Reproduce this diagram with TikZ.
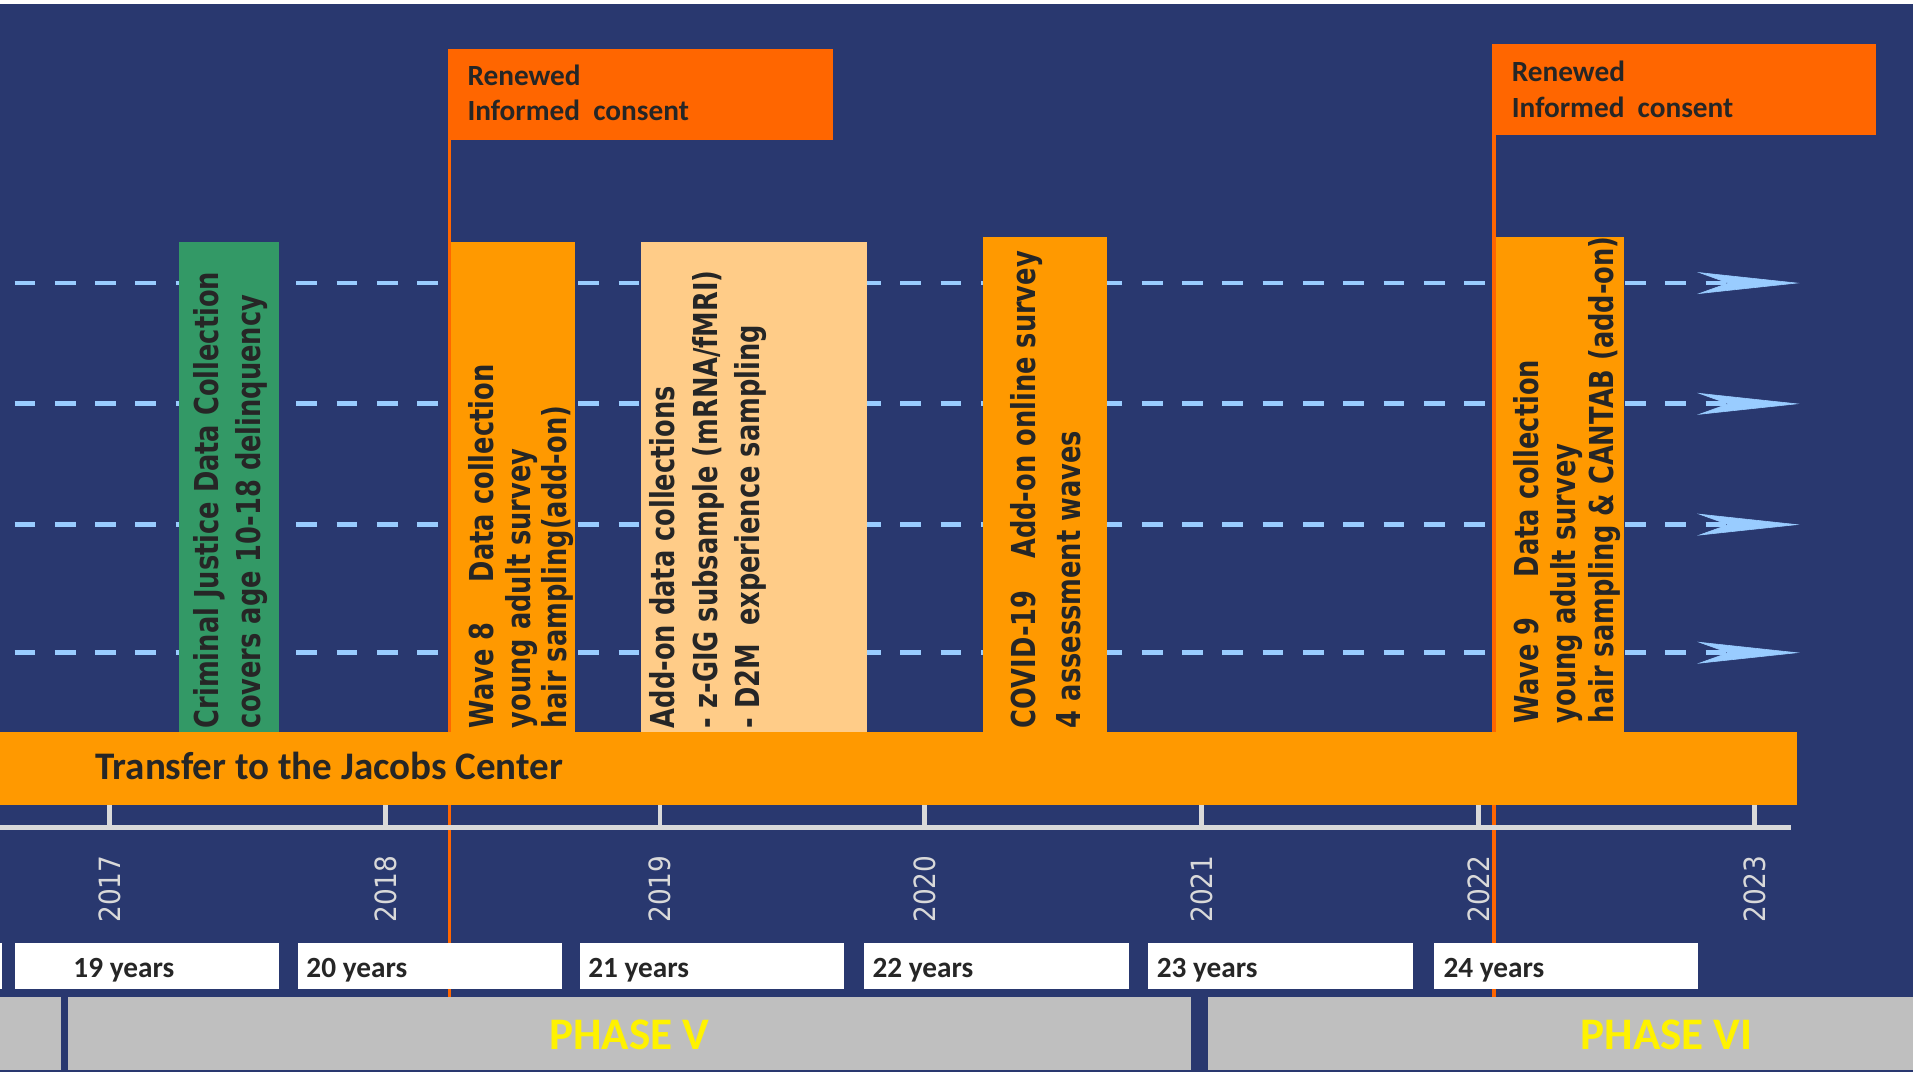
\documentclass[tikz,border=0pt]{standalone}
\usepackage{fontspec}
\setmainfont{Carlito}
\newfontfamily\boxfont[FakeStretch=0.78]{DejaVu Sans}
\newfontfamily\yearfont[FakeStretch=0.9]{DejaVu Sans}
\usetikzlibrary{arrows.meta,positioning}
\definecolor{navy}{HTML}{29386F}
\definecolor{barorange}{HTML}{FF9900}
\definecolor{redorange}{HTML}{FF6600}
\definecolor{lightorange}{HTML}{FFCC88}
\definecolor{crimgreen}{HTML}{339966}
\definecolor{dashblue}{HTML}{99CCFF}
\definecolor{phasegray}{HTML}{BFBFBF}
\definecolor{axisgray}{HTML}{D9D9D9}
\definecolor{darktext}{HTML}{262626}

\begin{document}
\begin{tikzpicture}[x=1pt,y=-1pt,
  box/.style={anchor=north west,inner sep=0pt,outer sep=0pt},
  vlabel/.style={rotate=90,anchor=north west,inner sep=0pt,align=left,text=darktext,
    font=\boxfont\bfseries\fontsize{27}{#1}\selectfont},
  track/.style={dashblue,line width=4pt,dash pattern=on 17pt off 16pt,
    -{Stealth[length=84pt,width=18pt,inset=25pt,line width=0.5pt]}},
  consentline/.style={redorange,line width=3pt},
  consenttext/.style={anchor=north west,inner sep=0pt,align=left,text=darktext,
    font=\bfseries\fontsize{24}{29}\selectfont},
  axis/.style={axisgray,line width=4pt},
  yearlabel/.style={rotate=90,anchor=east,inner sep=0pt,text=axisgray,
    font=\yearfont\fontsize{24}{28}\selectfont},
  agebox/.style={box,fill=white,minimum width=217pt,minimum height=38pt},
  agetext/.style={anchor=base west,inner sep=0pt,text=darktext,
    font=\bfseries\fontsize{24}{28}\selectfont},
  phasebar/.style={box,fill=phasegray,minimum height=60pt},
  phasetext/.style={anchor=base,inner sep=0pt,text=yellow,
    font=\bfseries\fontsize{37}{40}\selectfont}]

  % background
  \fill[white] (0,0) rectangle (1568,879);
  \fill[navy] (0,3) rectangle (1568,879);
  \useasboundingbox (0,0) rectangle (1568,879);

  % dashed tracks
  \foreach \y [count=\i] in {232,331,430,535} {
    \coordinate (start\i) at (12,\y);
    \coordinate (end\i) at (1475,\y);
    \draw[track] (start\i) -- (end\i);
  }

  % data collection blocks
  \node[box,fill=crimgreen,minimum width=82pt,minimum height=402pt] (crim) at (147,198) {};
  \node[box,fill=barorange,minimum width=103pt,minimum height=402pt] (wave8) at (368,198) {};
  \node[box,fill=lightorange,minimum width=186pt,minimum height=402pt] (addon) at (525,198) {};
  \node[box,fill=barorange,minimum width=101pt,minimum height=406pt] (covid) at (806,194) {};
  \node[box,fill=barorange,minimum width=106pt,minimum height=406pt] (wave9) at (1225,194) {};

  % consent flags
  \node[box,fill=redorange,minimum width=316pt,minimum height=75pt] (consentA) at (367,40) {};
  \node[box,fill=redorange,minimum width=315pt,minimum height=75pt] (consentB) at (1223,36) {};
  \node[consenttext] (consentAtext) at (383,53) {Renewed\\Informed\ \ consent};
  \node[consenttext] (consentBtext) at (1239,50) {Renewed\\Informed\ \ consent};
  \coordinate (lineAend) at (368.5,817);
  \coordinate (lineBend) at (1224.5,817);
  \draw[consentline] ([xshift=1.5pt]consentA.south west) -- (lineAend);
  \draw[consentline] ([xshift=1.5pt]consentB.south west) -- (lineBend);

  % block texts
  \node[vlabel=35] (crimtext) at (158,597) {Criminal Justice Data Collection\\covers age 10-18 delinquency};
  \node[vlabel=30] (wave8text) at (384,597) {Wave 8\hspace{33pt}Data collection\\young adult survey\\hair sampling(add-on)};
  \node[vlabel=35] (addontext) at (532,597) {Add-on data collections\\- z-GIG subsample (mRNA/fMRI)\\- D2M\ \ experience sampling};
  \node[vlabel=37] (covidtext) at (828,597) {COVID-19\hspace{26pt}Add-on online survey\\4 assessment waves};
  \node[vlabel=31] (wave9text) at (1240,593) {Wave 9\hspace{33pt}Data collection\\young adult survey\\hair sampling \& CANTAB (add-on)};

  % transfer bar
  \node[box,fill=barorange,minimum width=1473pt,minimum height=60pt] (transfer) at (0,600) {};
  \node[anchor=base west,inner sep=0pt,text=darktext,font=\bfseries\fontsize{32}{38}\selectfont]
    (transfertext) at (78,639) {Transfer to the Jacobs Center};

  % time axis
  \coordinate (axisL) at (0,678);
  \coordinate (axisR) at (1468,678);
  \draw[axis] (axisL) -- (axisR);
  \foreach \yr/\x in {2017/90,2018/316,2019/541,2020/758,2021/985,2022/1212,2023/1438} {
    \coordinate (tick\yr) at (\x,678);
    \coordinate (ticktop\yr) at (\x,660);
    \draw[axis] (tick\yr) -- (ticktop\yr);
    \node[yearlabel] (year\yr) at (\x,701) {\yr};
  }

  % ages
  \node[agebox,minimum width=2pt] (age0) at (0,773) {};
  \foreach \x/\tx/\age in {12/60/19,244/251/20,475/482/21,708/715/22,941/948/23,1175/1183/24} {
    \node[agebox] (age\age) at (\x,773) {};
    \node[agetext] (agetext\age) at (\tx,801) {\age\ years};
  }

  % phases
  \node[phasebar,minimum width=50pt] (phase4) at (0,817) {};
  \node[phasebar,minimum width=920pt] (phase5) at (56,817) {};
  \node[phasebar,minimum width=578pt] (phase6) at (990,817) {};
  \node[phasetext] (phase5text) at (516,860) {PHASE V};
  \node[phasetext] (phase6text) at (1366,860) {PHASE VI};

\end{tikzpicture}
\end{document}
